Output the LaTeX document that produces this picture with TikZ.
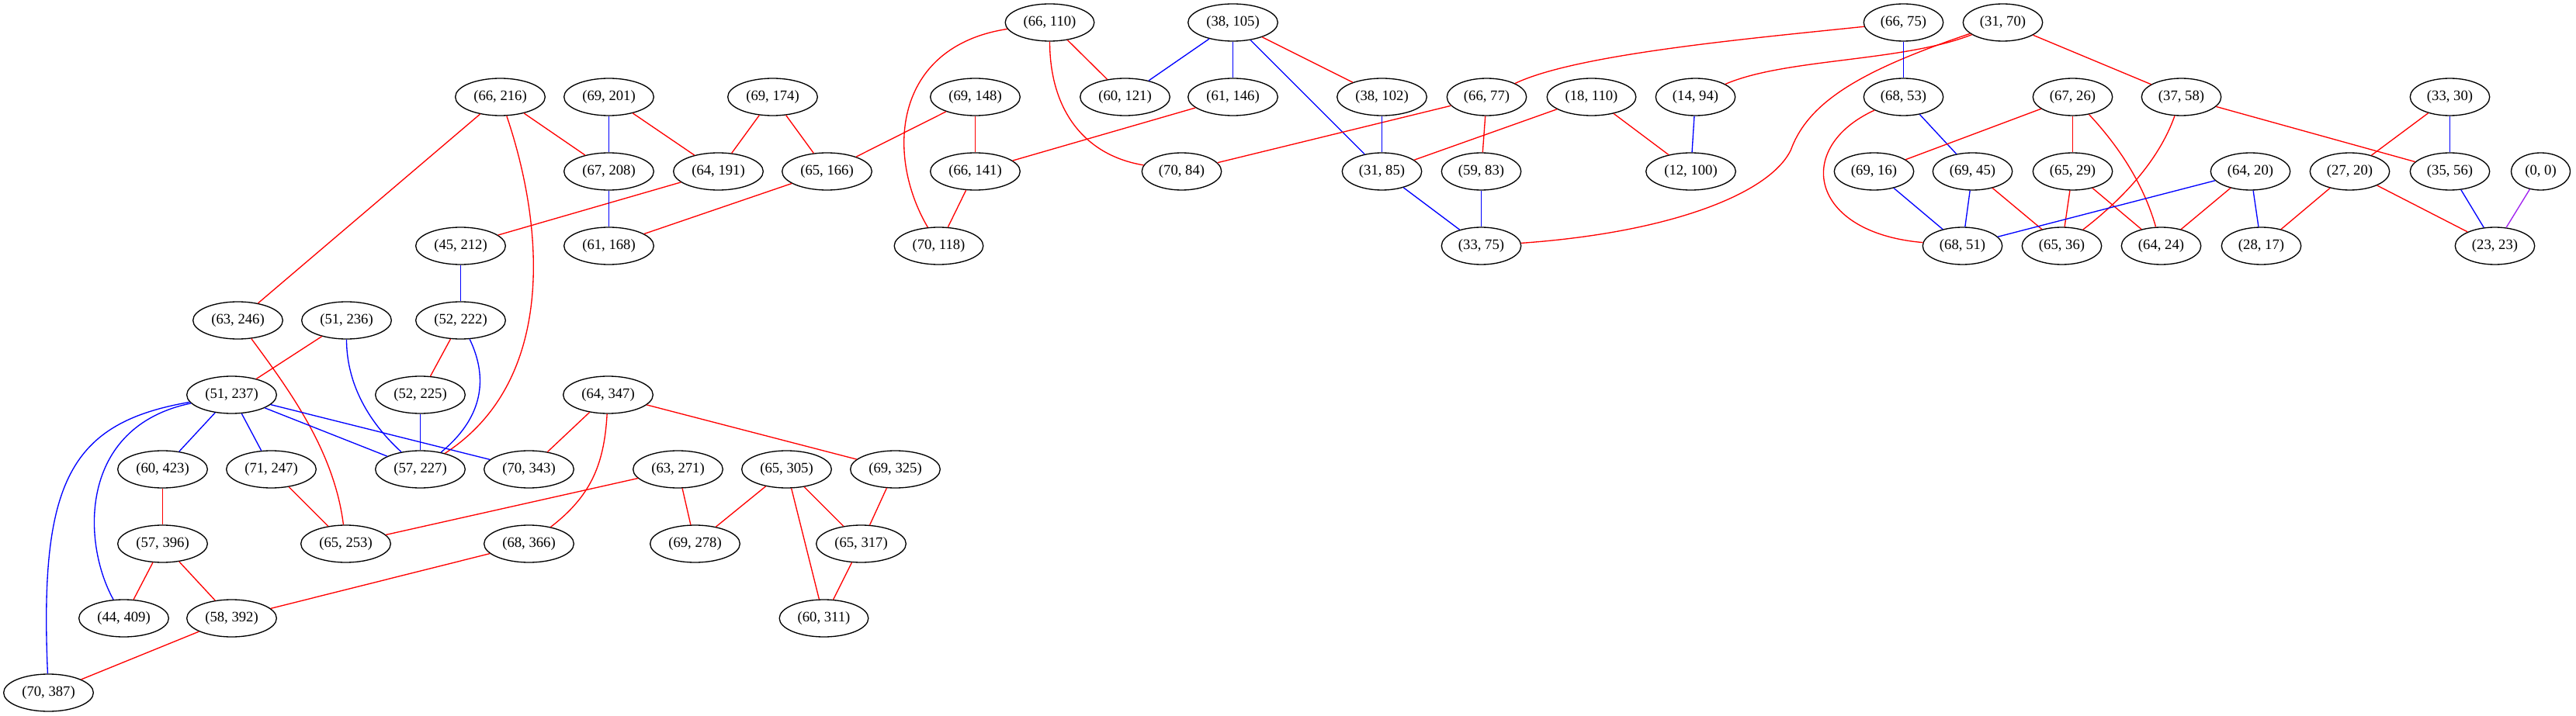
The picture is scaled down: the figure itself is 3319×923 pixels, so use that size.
\documentclass[tikz,border=0pt]{standalone}
\usepackage{fontspec}
\setmainfont{Liberation Serif}
\usetikzlibrary{shapes.geometric}
\definecolor{gvpurple}{RGB}{160,32,240}
\begin{document}
\begin{tikzpicture}[x=0.75pt,y=-0.75pt,
  gn/.style={ellipse,draw=black,line width=1pt,font=\fontsize{14}{16}\selectfont,inner xsep=5pt,inner ysep=1pt,minimum height=36pt},
  re/.style={draw=red,line width=1pt},
  be/.style={draw=blue,line width=1pt},
  pe/.style={draw=gvpurple,line width=1pt}]
\path[use as bounding box,fill=white] (0,0) rectangle (3319,923);
\begin{scope}[xshift=0.375pt]
% row 0
\node[gn] (n66x110) at (1352,29) {(66, 110)};
\node[gn] (n38x105) at (1588,29) {(38, 105)};
\node[gn] (n66x75) at (2452,29) {(66, 75)};
\node[gn] (n31x70) at (2580,29) {(31, 70)};
% row 1
\node[gn] (n66x216) at (644,125) {(66, 216)};
\node[gn] (n69x201) at (784,125) {(69, 201)};
\node[gn] (n69x174) at (995,125) {(69, 174)};
\node[gn] (n69x148) at (1256,125) {(69, 148)};
\node[gn] (n60x121) at (1449,125) {(60, 121)};
\node[gn] (n61x146) at (1588,125) {(61, 146)};
\node[gn] (n38x102) at (1780,125) {(38, 102)};
\node[gn] (n66x77) at (1915,125) {(66, 77)};
\node[gn] (n18x110) at (2050,125) {(18, 110)};
\node[gn] (n14x94) at (2184,125) {(14, 94)};
\node[gn] (n68x53) at (2452,125) {(68, 53)};
\node[gn] (n67x26) at (2670,125) {(67, 26)};
\node[gn] (n37x58) at (2810,125) {(37, 58)};
\node[gn] (n33x30) at (3156,125) {(33, 30)};
% row 2
\node[gn] (n67x208) at (784,221) {(67, 208)};
\node[gn] (n64x191) at (925,221) {(64, 191)};
\node[gn] (n65x166) at (1065,221) {(65, 166)};
\node[gn] (n66x141) at (1256,221) {(66, 141)};
\node[gn] (n70x84) at (1522,221) {(70, 84)};
\node[gn] (n31x85) at (1780,221) {(31, 85)};
\node[gn] (n59x83) at (1908,221) {(59, 83)};
\node[gn] (n12x100) at (2178,221) {(12, 100)};
\node[gn] (n69x16) at (2414,221) {(69, 16)};
\node[gn] (n69x45) at (2541,221) {(69, 45)};
\node[gn] (n65x29) at (2670,221) {(65, 29)};
\node[gn] (n64x20) at (2899,221) {(64, 20)};
\node[gn] (n27x20) at (3027,221) {(27, 20)};
\node[gn] (n35x56) at (3156,221) {(35, 56)};
\node[gn] (n0x0) at (3273,221) {(0, 0)};
% row 3
\node[gn] (n45x212) at (593,317) {(45, 212)};
\node[gn] (n61x168) at (784,317) {(61, 168)};
\node[gn] (n70x118) at (1209,317) {(70, 118)};
\node[gn] (n33x75) at (1908,317) {(33, 75)};
\node[gn] (n68x51) at (2528,317) {(68, 51)};
\node[gn] (n65x36) at (2656,317) {(65, 36)};
\node[gn] (n64x24) at (2784,317) {(64, 24)};
\node[gn] (n28x17) at (2913,317) {(28, 17)};
\node[gn] (n23x23) at (3214,317) {(23, 23)};
% row 4
\node[gn] (n63x246) at (306,413) {(63, 246)};
\node[gn] (n51x236) at (446,413) {(51, 236)};
\node[gn] (n52x222) at (593,413) {(52, 222)};
% row 5
\node[gn] (n51x237) at (298,509) {(51, 237)};
\node[gn] (n52x225) at (541,509) {(52, 225)};
\node[gn] (n64x347) at (783,509) {(64, 347)};
% row 6
\node[gn] (n60x423) at (209,605) {(60, 423)};
\node[gn] (n71x247) at (349,605) {(71, 247)};
\node[gn] (n57x227) at (541,605) {(57, 227)};
\node[gn] (n70x343) at (681,605) {(70, 343)};
\node[gn] (n63x271) at (873,605) {(63, 271)};
\node[gn] (n65x305) at (1013,605) {(65, 305)};
\node[gn] (n69x325) at (1153,605) {(69, 325)};
% row 7
\node[gn] (n57x396) at (209,701) {(57, 396)};
\node[gn] (n65x253) at (445,701) {(65, 253)};
\node[gn] (n68x366) at (681,701) {(68, 366)};
\node[gn] (n69x278) at (895,701) {(69, 278)};
\node[gn] (n65x317) at (1109,701) {(65, 317)};
% row 8
\node[gn] (n44x409) at (159,797) {(44, 409)};
\node[gn] (n58x392) at (298,797) {(58, 392)};
\node[gn] (n60x311) at (1061,797) {(60, 311)};
% row 9
\node[gn] (n70x387) at (62,893) {(70, 387)};

% edges left part
\draw[re] (n66x216) -- (n63x246);
\draw[re] (n66x216) -- (n67x208);
\draw[re] (n66x216) .. controls (700,290) and (718,490) .. (n57x227);
\draw[be] (n69x201) -- (n67x208);
\draw[re] (n69x201) -- (n64x191);
\draw[re] (n69x174) -- (n64x191);
\draw[re] (n69x174) -- (n65x166);
\draw[re] (n64x191) -- (n45x212);
\draw[be] (n67x208) -- (n61x168);
\draw[re] (n65x166) -- (n61x168);
\draw[be] (n45x212) -- (n52x222);
\draw[re] (n63x246) .. controls (370,500) and (430,580) .. (n65x253);
\draw[re] (n51x236) -- (n51x237);
\draw[be] (n51x236) .. controls (446,490) and (470,540) .. (n57x227);
\draw[be] (n52x222) .. controls (630,490) and (620,540) .. (n57x227);
\draw[re] (n52x222) -- (n52x225);
\draw[be] (n52x225) -- (n57x227);
\draw[be] (n51x237) -- (n57x227);
\draw[be] (n51x237) -- (n70x343);
\draw[be] (n51x237) -- (n60x423);
\draw[be] (n51x237) -- (n71x247);
\draw[be] (n51x237) .. controls (100,550) and (105,700) .. (n44x409);
\draw[be] (n51x237) .. controls (90,545) and (50,620) .. (n70x387);
\draw[re] (n64x347) -- (n70x343);
\draw[re] (n64x347) .. controls (778,600) and (760,640) .. (n68x366);
\draw[re] (n64x347) -- (n69x325);
\draw[re] (n60x423) -- (n57x396);
\draw[re] (n71x247) -- (n65x253);
\draw[re] (n63x271) -- (n65x253);
\draw[re] (n63x271) -- (n69x278);
\draw[re] (n65x305) -- (n69x278);
\draw[re] (n65x305) -- (n60x311);
\draw[re] (n65x305) -- (n65x317);
\draw[re] (n69x325) -- (n65x317);
\draw[re] (n65x317) -- (n60x311);
\draw[re] (n57x396) -- (n44x409);
\draw[re] (n57x396) -- (n58x392);
\draw[re] (n68x366) -- (n58x392);
\draw[re] (n58x392) -- (n70x387);
% middle part
\draw[re] (n66x110) .. controls (1150,60) and (1140,200) .. (n70x118);
\draw[re] (n66x110) .. controls (1352,140) and (1395,200) .. (n70x84);
\draw[re] (n66x110) -- (n60x121);
\draw[be] (n38x105) -- (n60x121);
\draw[be] (n38x105) -- (n61x146);
\draw[be] (n38x105) -- (n31x85);
\draw[re] (n38x105) -- (n38x102);
\draw[re] (n69x148) -- (n65x166);
\draw[re] (n69x148) -- (n66x141);
\draw[re] (n61x146) -- (n66x141);
\draw[re] (n66x141) -- (n70x118);
\draw[re] (n66x77) -- (n70x84);
\draw[re] (n66x77) -- (n59x83);
\draw[be] (n38x102) -- (n31x85);
\draw[re] (n18x110) -- (n31x85);
\draw[re] (n18x110) -- (n12x100);
\draw[be] (n14x94) -- (n12x100);
\draw[be] (n31x85) -- (n33x75);
\draw[be] (n59x83) -- (n33x75);
% right part
\draw[re] (n66x75) .. controls (2250,50) and (2030,70) .. (n66x77);
\draw[re] (n31x70) .. controls (2450,80) and (2300,75) .. (n14x94);
\draw[re] (n31x70) .. controls (2400,90) and (2330,130) .. (2307,193) .. controls (2280,250) and (2150,300) .. (n33x75);
\draw[re] (n31x70) -- (n37x58);
\draw[be] (n66x75) -- (n68x53);
\draw[be] (n68x53) -- (n69x45);
\draw[re] (n68x53) .. controls (2310,190) and (2330,300) .. (n68x51);
\draw[re] (n67x26) -- (n69x16);
\draw[re] (n67x26) -- (n65x29);
\draw[re] (n67x26) .. controls (2740,200) and (2765,250) .. (n64x24);
\draw[re] (n37x58) .. controls (2780,210) and (2730,260) .. (n65x36);
\draw[re] (n37x58) -- (n35x56);
\draw[re] (n33x30) -- (n27x20);
\draw[be] (n33x30) -- (n35x56);
\draw[be] (n69x16) -- (n68x51);
\draw[be] (n69x45) -- (n68x51);
\draw[re] (n69x45) -- (n65x36);
\draw[re] (n65x29) -- (n65x36);
\draw[re] (n65x29) -- (n64x24);
\draw[be] (n64x20) -- (n68x51);
\draw[re] (n64x20) -- (n64x24);
\draw[be] (n64x20) -- (n28x17);
\draw[re] (n27x20) -- (n28x17);
\draw[re] (n27x20) -- (n23x23);
\draw[be] (n35x56) -- (n23x23);
\draw[pe] (n0x0) -- (n23x23);
\end{scope}
\end{tikzpicture}
\end{document}
